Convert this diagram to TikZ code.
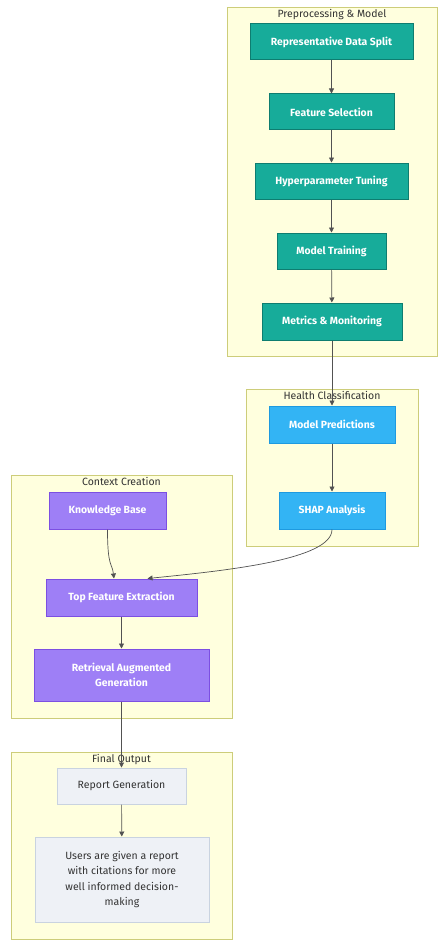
\documentclass[tikz,border=0pt]{standalone}
\usepackage{fontspec}
\setmainfont{Fira Sans}
\usetikzlibrary{arrows.meta}
\definecolor{clfill}{HTML}{FFFFDE}
\definecolor{cldraw}{HTML}{CDCD7A}
\definecolor{tealF}{HTML}{17AC9A}
\definecolor{tealD}{HTML}{0E7D70}
\definecolor{blueF}{HTML}{33B4F4}
\definecolor{blueD}{HTML}{1E9AE0}
\definecolor{purpF}{HTML}{9E7FF6}
\definecolor{purpD}{HTML}{7C4FE2}
\definecolor{greyF}{HTML}{EEF1F6}
\definecolor{greyD}{HTML}{C9D3E0}
\definecolor{ink}{HTML}{333333}
\tikzset{
  cluster/.style={draw=cldraw, fill=clfill, line width=0.8pt},
  cltitle/.style={font=\fontsize{10.5}{12}\selectfont, text=ink, anchor=north, inner sep=0pt},
  box/.style={draw, line width=1pt, inner sep=0pt, align=center,
    font=\fontsize{10.5}{15.5}\selectfont},
  solid box/.style={box, text=white, font=\fontsize{10.4}{15.5}\selectfont\bfseries},
  tealbox/.style={solid box, fill=tealF, draw=tealD},
  bluebox/.style={solid box, fill=blueF, draw=blueD},
  purpbox/.style={solid box, fill=purpF, draw=purpD},
  greybox/.style={box, fill=greyF, draw=greyD, text=ink},
  flow/.style={draw=ink!85, line width=0.7pt, -{Triangle[length=5pt,width=5pt]}},
}
% a box given by its corners (x1,y1) and (x2,y2) in pixels
\newcommand{\boxat}[7]{%
  \node[#1, minimum width={#4-#2}, minimum height={#5-#3}] (#6)
    at ({(#2+#4)/2},{(#3+#5)/2}) {#7};}
\begin{document}
\begin{tikzpicture}[x=1pt,y=-1pt]
\useasboundingbox (0,0) rectangle (446,947);
\fill[white] (0,0) rectangle (446,947);

% subgraph frames
\draw[cluster] (227,7) rectangle (437,356);
\node[cltitle] (t1) at (332,9) {Preprocessing \& Model};
\draw[cluster] (246,389) rectangle (418,546);
\node[cltitle] (t2) at (332,391) {Health Classification};
\draw[cluster] (11,475) rectangle (232,718);
\node[cltitle] (t3) at (121.5,477) {Context Creation};
\draw[cluster] (11,752) rectangle (232,939);
\node[cltitle] (t4) at (121.5,754) {Final Output};

% pipeline steps
\boxat{tealbox}{250}{24}{413}{60}{rds}{Representative Data Split}
\boxat{tealbox}{269}{94}{394}{130}{fs}{Feature Selection}
\boxat{tealbox}{255}{163}{408}{199}{hpt}{Hyperparameter Tuning}
\boxat{tealbox}{277}{233}{386}{269}{mt}{Model Training}
\boxat{tealbox}{262}{303}{402}{340}{mm}{Metrics \& Monitoring}

\boxat{bluebox}{269}{406}{395}{443}{mp}{Model Predictions}
\boxat{bluebox}{279}{492}{385}{529}{shap}{SHAP Analysis}

\boxat{purpbox}{49}{492}{166}{529}{kb}{Knowledge Base}
\boxat{purpbox}{46}{579}{197}{616}{tfe}{Top Feature Extraction}
\boxat{purpbox}{34}{649}{209}{701}{rag}{Retrieval Augmented\\Generation}

\boxat{greybox}{57}{768}{186}{804}{rg}{Report Generation}
\boxat{greybox}{35}{837}{209}{922}{usr}{Users are given a report\\with citations for more\\well informed decision-\\making}

% connectors
\draw[flow] (rds) -- (fs);
\draw[flow] (fs) -- (hpt);
\draw[flow] (hpt) -- (mt);
\draw[flow] (mt) -- (mm);
\draw[flow] (mm) -- (mp);
\draw[flow] (mp) -- (shap);
\draw[flow] (kb.south) .. controls +(0,38) and +(-2,-16) .. ([xshift=-7.5pt]tfe.north);
\draw[flow] (shap.south) .. controls +(0,30) and +(80,-8) .. ([xshift=26pt]tfe.north);
\draw[flow] (tfe) -- (rag);
\draw[flow] (rag) -- (rg);
\draw[flow] (rg) -- (usr);
\end{tikzpicture}
\end{document}
